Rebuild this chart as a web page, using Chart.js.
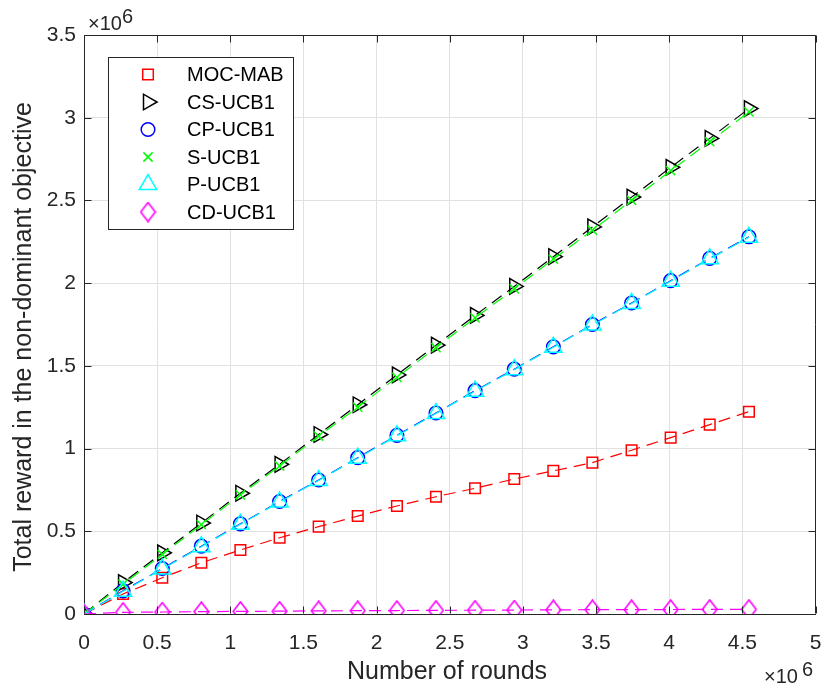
<!DOCTYPE html>
<html>
<head>
<meta charset="utf-8">
<script src="https://cdn.jsdelivr.net/npm/chart.js@4.4.1/dist/chart.umd.min.js"></script>
<style>
html,body{margin:0;padding:0;background:#ffffff;}
#wrap{width:827px;height:691px;position:relative;}
</style>
</head>
<body>
<div id="wrap"><canvas id="c" width="827" height="691"></canvas></div>
<script>
// All values in units of 10^6
const rounds = [0, 0.267, 0.535, 0.802, 1.069, 1.337, 1.604, 1.871, 2.139, 2.406, 2.673, 2.941, 3.208, 3.475, 3.743, 4.010, 4.277, 4.545];
const mocMab = [0, 0.121, 0.219, 0.310, 0.387, 0.461, 0.528, 0.592, 0.653, 0.709, 0.760, 0.816, 0.865, 0.915, 0.990, 1.066, 1.145, 1.223];
const csUcb1 = [0, 0.19, 0.37, 0.55, 0.73, 0.905, 1.085, 1.265, 1.445, 1.625, 1.805, 1.98, 2.16, 2.34, 2.52, 2.70, 2.875, 3.055];
const cpUcb1 = [0, 0.14, 0.275, 0.41, 0.545, 0.68, 0.81, 0.945, 1.08, 1.215, 1.35, 1.48, 1.615, 1.75, 1.88, 2.015, 2.15, 2.28];
const sUcb1  = [0, 0.18, 0.36, 0.54, 0.72, 0.895, 1.075, 1.25, 1.43, 1.61, 1.79, 1.965, 2.145, 2.32, 2.50, 2.68, 2.855, 3.035];
const pUcb1  = [0, 0.137, 0.272, 0.407, 0.542, 0.677, 0.807, 0.942, 1.077, 1.212, 1.347, 1.477, 1.612, 1.747, 1.877, 2.012, 2.147, 2.277];
const cdUcb1 = [0, 0.010, 0.012, 0.014, 0.016, 0.017, 0.019, 0.020, 0.021, 0.022, 0.023, 0.024, 0.025, 0.026, 0.026, 0.027, 0.028, 0.028];
const seriesNames = ['MOC-MAB', 'CS-UCB1', 'CP-UCB1', 'S-UCB1', 'P-UCB1', 'CD-UCB1'];
const xTicks = [0, 0.5, 1, 1.5, 2, 2.5, 3, 3.5, 4, 4.5, 5];
const yTicks = [0, 0.5, 1, 1.5, 2, 2.5, 3, 3.5];
const xTitle = 'Number of rounds';
const yTitle = 'Total reward in the non-dominant objective';
const expLabel = ['\u00d710', '6'];

const FONT = '"Liberation Sans", Arial, Helvetica, sans-serif';
const AX = '#262626';

function pts(ys) { return rounds.map((r, i) => ({x: r, y: ys[i]})); }

// diamond marker (taller than wide, like MATLAB)
function diamondCanvas(color) {
  const c = document.createElement('canvas');
  c.width = 17; c.height = 21;
  const g = c.getContext('2d');
  g.strokeStyle = color; g.lineWidth = 1.6;
  g.beginPath();
  g.moveTo(8.5, 1); g.lineTo(15.8, 10.5); g.lineTo(8.5, 20); g.lineTo(1.2, 10.5); g.closePath();
  g.stroke();
  return c;
}
const diamond = diamondCanvas('#ff00ff');

const DASH = [12, 7];
function ds(label, ys, color, style, radius, rotation, order) {
  return {
    label, data: pts(ys), borderColor: color, borderWidth: 1.2, borderDash: DASH,
    pointStyle: style, pointRadius: radius, pointRotation: rotation || 0,
    pointBorderColor: color, pointBackgroundColor: 'rgba(0,0,0,0)', pointBorderWidth: 1.5,
    fill: false, tension: 0, order
  };
}

const datasets = [
  ds(seriesNames[0], mocMab, '#ff0000', 'rect', 7.5, 0, 6),
  ds(seriesNames[1], csUcb1, '#000000', 'triangle', 9, 90, 5),
  ds(seriesNames[2], cpUcb1, '#0000ff', 'circle', 6.8, 0, 4),
  ds(seriesNames[3], sUcb1, '#00ff00', 'crossRot', 6.5, 0, 3),
  ds(seriesNames[4], pUcb1, '#00ffff', 'triangle', 10, 0, 2),
  ds(seriesNames[5], cdUcb1, '#ff00ff', diamond, 9, 0, 1)
];

const decor = {
  id: 'decor',
  afterDraw(chart) {
    const ctx = chart.ctx;
    const {left, right, top, bottom} = chart.chartArea;
    const xs = chart.scales.x, ys = chart.scales.y;
    ctx.save();
    ctx.strokeStyle = AX; ctx.lineWidth = 1;
    const T = Math.round(top) + 0.5, R = Math.round(right) - 0.5, B = Math.round(bottom) - 0.5, L = Math.round(left) + 0.5;
    ctx.beginPath();
    ctx.moveTo(L, T); ctx.lineTo(R, T); ctx.lineTo(R, B);
    ctx.stroke();
    const tl = 7;
    ctx.beginPath();
    xTicks.forEach(v => {
      const p = Math.round(xs.getPixelForValue(v)) + 0.5;
      ctx.moveTo(p, B); ctx.lineTo(p, B - tl);
      ctx.moveTo(p, T); ctx.lineTo(p, T + tl);
    });
    yTicks.forEach(v => {
      const p = Math.round(ys.getPixelForValue(v)) + 0.5;
      ctx.moveTo(L, p); ctx.lineTo(L + tl, p);
      ctx.moveTo(R, p); ctx.lineTo(R - tl, p);
    });
    ctx.stroke();

    // axis titles
    ctx.fillStyle = AX;
    ctx.font = '25px ' + FONT;
    ctx.textAlign = 'center'; ctx.textBaseline = 'alphabetic';
    ctx.fillText(xTitle, 447, 679);
    ctx.save();
    ctx.translate(31, 337);
    ctx.rotate(-Math.PI / 2);
    ctx.fillText(yTitle, 0, 0);
    ctx.restore();

    // exponent labels
    ctx.textAlign = 'left';
    ctx.font = '20px ' + FONT;
    ctx.fillText(expLabel[0], 88, 30);
    ctx.fillText(expLabel[1], 122, 23);
    ctx.fillText(expLabel[0], 764, 683);
    ctx.fillText(expLabel[1], 802, 676);

    // legend
    const bx = 108.5, by = 57.5, bw = 185, bh = 172;
    ctx.fillStyle = '#ffffff';
    ctx.fillRect(bx, by, bw, bh);
    ctx.strokeStyle = AX; ctx.lineWidth = 1;
    ctx.strokeRect(bx, by, bw, bh);
    ctx.font = '20px ' + FONT;
    ctx.textBaseline = 'middle';
    chart.data.datasets.forEach((d, i) => {
      const yy = 74.5 + i * 27.5;
      ctx.save();
      ctx.strokeStyle = d.pointBorderColor;
      ctx.fillStyle = 'rgba(0,0,0,0)';
      ctx.lineWidth = d.pointBorderWidth;
      if (d.pointStyle instanceof HTMLCanvasElement) {
        ctx.drawImage(d.pointStyle, 148 - d.pointStyle.width / 2, yy - d.pointStyle.height / 2);
      } else if (Chart.helpers && Chart.helpers.drawPoint) {
        Chart.helpers.drawPoint(ctx, {pointStyle: d.pointStyle, rotation: d.pointRotation, radius: d.pointRadius, borderWidth: d.pointBorderWidth}, 148, yy);
      }
      ctx.restore();
      ctx.fillStyle = '#000000';
      ctx.fillText(d.label, 187, yy + 1);
    });
    ctx.restore();
  }
};

new Chart(document.getElementById('c'), {
  type: 'line',
  data: {datasets},
  plugins: [decor],
  options: {
    responsive: false, animation: false, devicePixelRatio: 1,
    layout: {padding: {top: 35, right: 9, left: 0, bottom: 0}},
    plugins: {legend: {display: false}, tooltip: {enabled: false}},
    scales: {
      x: {
        type: 'linear', min: 0, max: 5,
        afterFit(s) { s.height = 77; s.paddingLeft = 0; s.paddingRight = 0; },
        afterBuildTicks(s) { s.ticks = xTicks.map(v => ({value: v})); },
        grid: {color: '#e1e1e1', lineWidth: 1, drawTicks: false},
        border: {display: true, color: AX, width: 1},
        ticks: {font: {family: FONT, size: 21}, color: AX, padding: 17, maxRotation: 0, autoSkip: false,
                callback: v => String(v)}
      },
      y: {
        type: 'linear', min: 0, max: 3.5,
        afterFit(s) { s.width = 84; s.paddingTop = 0; s.paddingBottom = 0; },
        afterBuildTicks(s) { s.ticks = yTicks.map(v => ({value: v})); },
        grid: {color: '#e1e1e1', lineWidth: 1, drawTicks: false},
        border: {display: true, color: AX, width: 1},
        ticks: {font: {family: FONT, size: 21}, color: AX, padding: 8, autoSkip: false,
                callback: v => String(v)}
      }
    }
  }
});
</script>
</body>
</html>
